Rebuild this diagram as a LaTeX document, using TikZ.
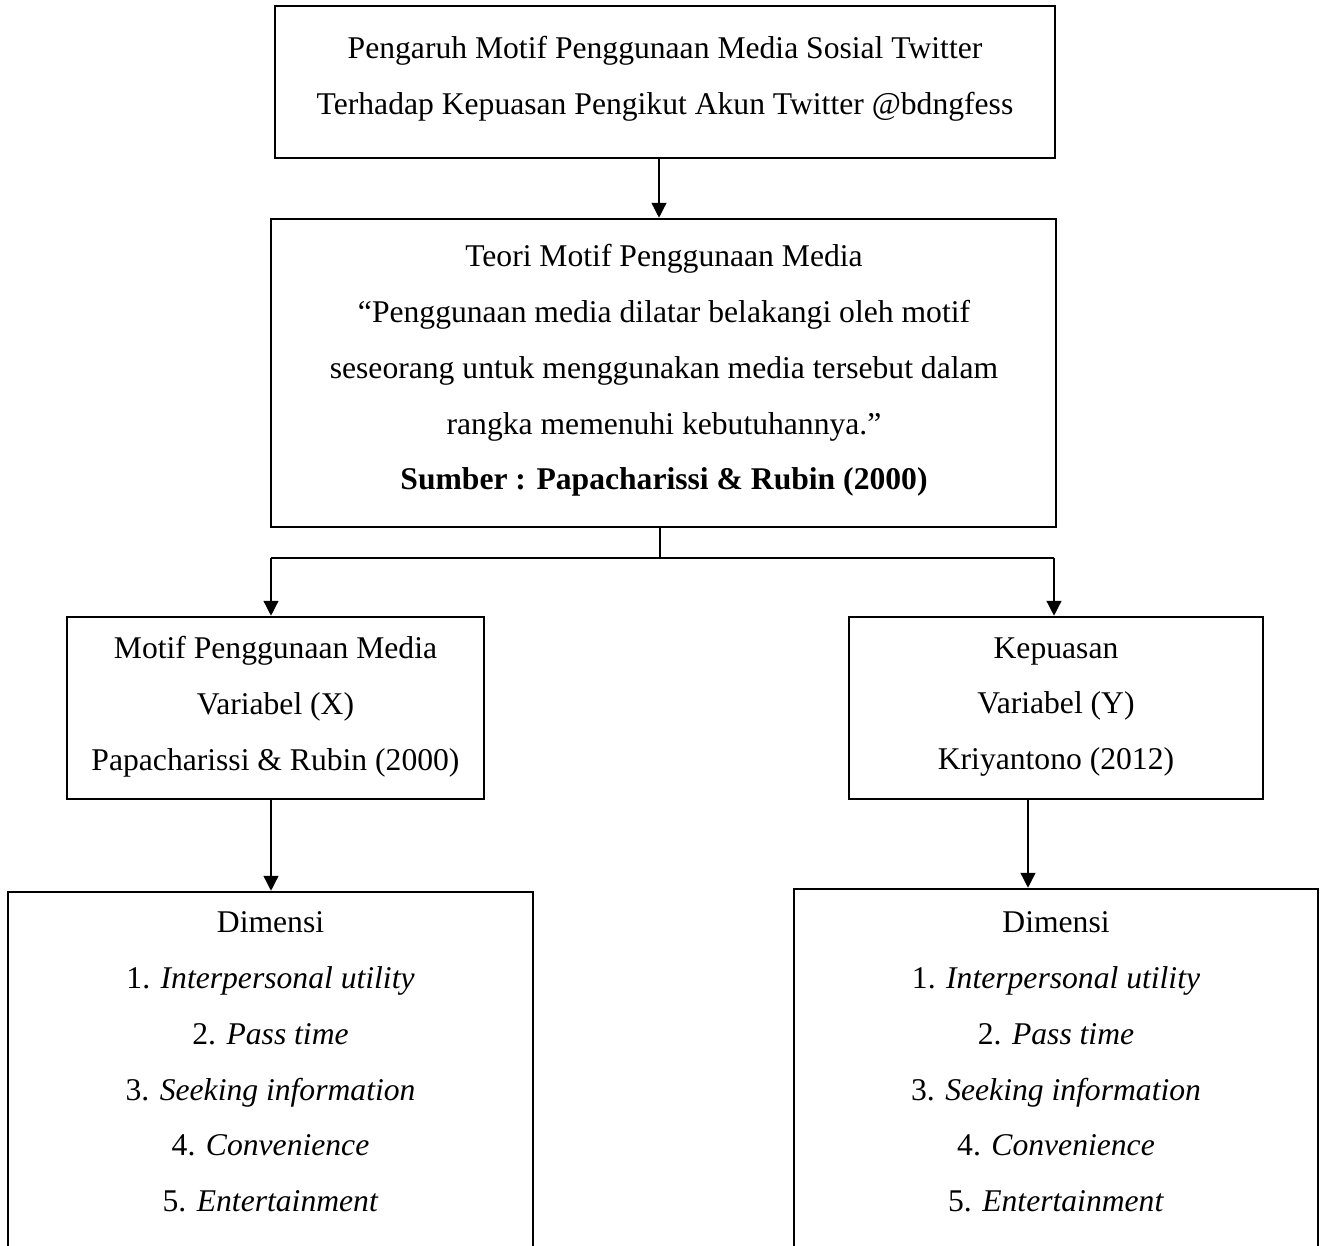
\documentclass[tikz,border=0pt]{standalone}
\usepackage{fontspec}
\setmainfont{Liberation Serif}
\usetikzlibrary{arrows.meta}
\begin{document}
\begin{tikzpicture}[x=0.02cm,y=-0.02cm,
  box/.style={draw,line width=1.5pt,inner sep=0pt,rectangle},
  txt/.style={align=center,inner sep=0pt,font=\fontsize{18}{31.75}\selectfont},
  conn/.style={line width=0.8pt},
  arr/.style={line width=0.8pt,-{Triangle[length=8.5pt,width=8.5pt]}}]
\useasboundingbox (0,0) rectangle (1326,1245);
\clip (0,0) rectangle (1326,1245);
% boxes
\node[box,minimum width=15.6cm,minimum height=3.04cm] (top) at (665,82) {};
\node[box,minimum width=15.7cm,minimum height=6.16cm] (mid) at (663.5,373) {};
\node[box,minimum width=8.34cm,minimum height=3.64cm] (lx) at (275.5,708) {};
\node[box,minimum width=8.28cm,minimum height=3.64cm] (ry) at (1056,708) {};
\node[box,minimum width=10.5cm,minimum height=8.16cm] (ldim) at (270.5,1096) {};
\node[box,minimum width=10.48cm,minimum height=8.22cm] (rdim) at (1056,1094.5) {};
% texts
\node[txt] (toptext) at (665,78.5) {Pengaruh Motif Penggunaan Media Sosial Twitter\\Terhadap Kepuasan Pengikut Akun Twitter @bdngfess};
\node[txt] (midtext) at (664,370.5) {Teori Motif Penggunaan Media\\“Penggunaan media dilatar belakangi oleh motif\\seseorang untuk menggunakan media tersebut dalam\\rangka memenuhi kebutuhannya.”\\\textbf{Sumber : Papacharissi \& Rubin (2000)}};
\node[txt] (lxtext) at (275.5,707) {Motif Penggunaan Media\\Variabel (X)\\Papacharissi \& Rubin (2000)};
\node[txt] (rytext) at (1056,707) {Kepuasan\\Variabel (Y)\\Kriyantono (2012)};
\node[txt] (ldimtext) at (270.5,1062) {Dimensi\\1. \textit{Interpersonal utility}\\2. \textit{Pass time}\\3. \textit{Seeking information}\\4. \textit{Convenience}\\5. \textit{Entertainment}};
\node[txt] (rdimtext) at (1056,1062) {Dimensi\\1. \textit{Interpersonal utility}\\2. \textit{Pass time}\\3. \textit{Seeking information}\\4. \textit{Convenience}\\5. \textit{Entertainment}};
% connector helpers
\coordinate (a1) at (659,0);
\coordinate (a2) at (660,558);
\coordinate (fl) at (271,558);
\coordinate (fr) at (1054,558);
\coordinate (a3) at (271,0);
\coordinate (a4) at (1028,0);
% connectors
\draw[arr] (top.south -| a1) -- (mid.north -| a1);
\draw[conn] (mid.south -| a2) -- (a2);
\draw[conn] (fl) -- (fr);
\draw[arr] (fl) -- (lx.north -| fl);
\draw[arr] (fr) -- (ry.north -| fr);
\draw[arr] (lx.south -| a3) -- (ldim.north -| a3);
\draw[arr] (ry.south -| a4) -- (rdim.north -| a4);
\end{tikzpicture}
\end{document}
